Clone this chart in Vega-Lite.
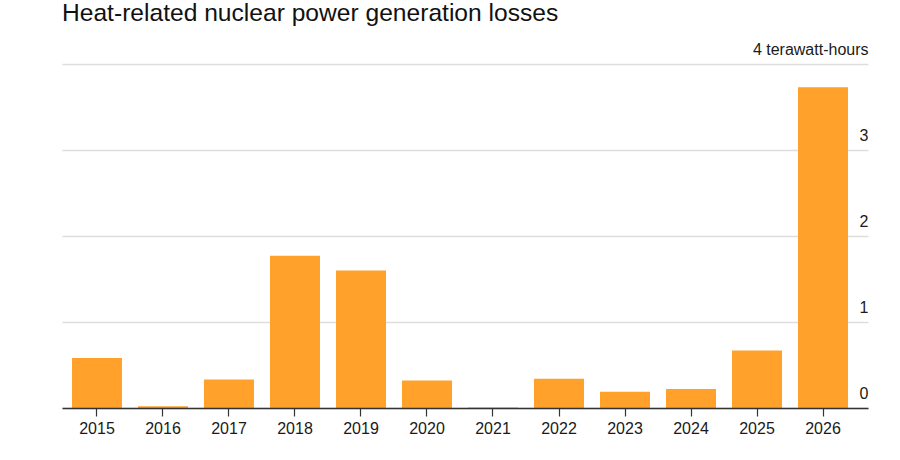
{
  "$schema": "https://vega.github.io/schema/vega-lite/v6.json",
  "autosize": "none",
  "padding": {"left": 62, "top": 64, "right": 32, "bottom": 52},
  "width": 806,
  "height": 344,
  "background": "white",
  "config": {"view": {"stroke": null}, "font": "Liberation Sans"},
  "title": {
    "text": "Heat-related nuclear power generation losses",
    "anchor": "start",
    "frame": "group",
    "fontSize": 24.6,
    "fontWeight": "normal",
    "color": "#111111",
    "font": "Liberation Sans",
    "offset": 14
  },
  "data": {
    "values": [
      {"year": "2015", "twh": 0.58},
      {"year": "2016", "twh": 0.02},
      {"year": "2017", "twh": 0.33},
      {"year": "2018", "twh": 1.77},
      {"year": "2019", "twh": 1.6},
      {"year": "2020", "twh": 0.32},
      {"year": "2021", "twh": 0.006},
      {"year": "2022", "twh": 0.34},
      {"year": "2023", "twh": 0.19},
      {"year": "2024", "twh": 0.22},
      {"year": "2025", "twh": 0.67},
      {"year": "2026", "twh": 3.73}
    ]
  },
  "mark": {"type": "bar", "color": "#FFA12B"},
  "encoding": {
    "x": {
      "field": "year",
      "type": "ordinal",
      "scale": {"paddingInner": 0.2424, "paddingOuter": 0.227, "align": 0.333},
      "axis": {
        "title": null,
        "labelAngle": 0,
        "labelFontSize": 16,
        "labelColor": "#1a1a1a",
        "labelPadding": 4,
        "domainColor": "#333333",
        "domainWidth": 1.5,
        "tickColor": "#333333",
        "tickSize": 8,
        "tickWidth": 1.2,
        "grid": false,
        "zindex": 2
      }
    },
    "y": {
      "field": "twh",
      "type": "quantitative",
      "scale": {"domain": [0, 4], "nice": false},
      "axis": {
        "orient": "right",
        "title": null,
        "values": [0, 1, 2, 3, 4],
        "labelExpr": "datum.value == 4 ? '4 terawatt-hours' : datum.label",
        "labelAlign": "right",
        "labelBaseline": "alphabetic",
        "labelOffset": -10,
        "labelPadding": 0,
        "labelFontSize": 16,
        "labelColor": "#1a1a1a",
        "domain": false,
        "ticks": false,
        "tickSize": 0,
        "grid": true,
        "gridColor": "#dddddd",
        "gridWidth": 1.5,
        "zindex": 0
      }
    }
  }
}
